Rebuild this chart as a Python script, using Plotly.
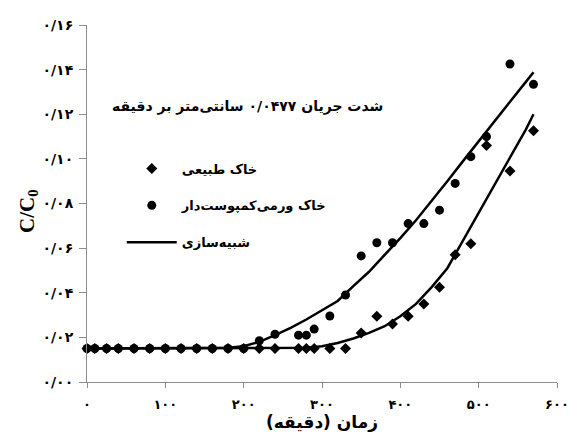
import plotly.graph_objects as go

# Measured breakthrough data (time in minutes, relative concentration C/C0)
time_natural = [0, 10, 25, 40, 60, 80, 100, 120, 140, 160, 180, 200, 220, 240,
                270, 280, 290, 310, 330, 350, 370, 390, 410, 430, 450, 470, 490,
                510, 540, 570]
conc_natural = [0.015, 0.015, 0.015, 0.015, 0.015, 0.015, 0.015, 0.015, 0.015,
                0.015, 0.015, 0.015, 0.015, 0.015, 0.015, 0.015, 0.015, 0.015,
                0.015, 0.022, 0.0295, 0.026, 0.0295, 0.035, 0.0425, 0.057,
                0.062, 0.106, 0.0946, 0.1126]

time_vermi = [0, 10, 25, 40, 60, 80, 100, 120, 140, 160, 180, 200, 220, 240,
              270, 280, 290, 310, 330, 350, 370, 390, 410, 430, 450, 470, 490,
              510, 540, 570]
conc_vermi = [0.015, 0.015, 0.015, 0.015, 0.015, 0.015, 0.015, 0.015, 0.015,
              0.015, 0.015, 0.015, 0.0185, 0.0214, 0.021, 0.021, 0.0237,
              0.0296, 0.039, 0.0565, 0.0624, 0.0624, 0.071, 0.071, 0.077,
              0.089, 0.101, 0.110, 0.1425, 0.1334]

# Simulated curves
sim_time = [0, 100, 150, 180, 200, 220, 240, 260, 280, 300, 320, 340, 360, 380,
            400, 420, 440, 460, 480, 500, 520, 540, 560, 570]
sim_natural = [0.015, 0.015, 0.015, 0.015, 0.015, 0.015, 0.015, 0.015, 0.0153,
               0.016, 0.0175, 0.0195, 0.022, 0.025, 0.0295, 0.035, 0.0425,
               0.051, 0.0635, 0.0755, 0.088, 0.1005, 0.113, 0.120]
sim_vermi = [0.015, 0.015, 0.015, 0.0153, 0.016, 0.018, 0.021, 0.0243, 0.028,
             0.032, 0.0363, 0.043, 0.0494, 0.057, 0.0645, 0.0725, 0.081, 0.090,
             0.099, 0.108, 0.117, 0.1256, 0.1344, 0.1388]

y_tick_vals = [0, 0.02, 0.04, 0.06, 0.08, 0.10, 0.12, 0.14, 0.16]
y_tick_text = ["۰/۰۰", "۰/۰۲", "۰/۰۴", "۰/۰۶", "۰/۰۸", "۰/۱۰", "۰/۱۲", "۰/۱۴", "۰/۱۶"]
x_tick_vals = [0, 100, 200, 300, 400, 500, 600]
x_tick_text = ["۰", "۱۰۰", "۲۰۰", "۳۰۰", "۴۰۰", "۵۰۰", "۶۰۰"]

name_natural = "خاک طبیعی"
name_vermi = "خاک ورمی‌کمپوست‌دار"
name_sim = "شبیه‌سازی"
chart_title = "شدت جریان ۰/۰۴۷۷ سانتی‌متر بر دقیقه"
x_title = "زمان (دقیقه)"

FA_FONT = "DejaVu Sans"

fig = go.Figure()

fig.add_trace(go.Scatter(
    x=sim_time, y=sim_natural, mode="lines", name=name_sim,
    line=dict(color="black", width=2.5), legendgroup="sim", legendrank=3,
    showlegend=True, cliponaxis=False,
))
fig.add_trace(go.Scatter(
    x=sim_time, y=sim_vermi, mode="lines", name=name_sim,
    line=dict(color="black", width=2.5), legendgroup="sim",
    showlegend=False, cliponaxis=False,
))
fig.add_trace(go.Scatter(
    x=time_natural, y=conc_natural, mode="markers", name=name_natural,
    marker=dict(symbol="diamond", size=8.5, color="black"),
    legendgroup="nat", legendrank=1, cliponaxis=False,
))
fig.add_trace(go.Scatter(
    x=time_vermi, y=conc_vermi, mode="markers", name=name_vermi,
    marker=dict(symbol="circle", size=9, color="black"),
    legendgroup="ver", legendrank=2, cliponaxis=False,
))

axis_color = "#8c8c8c"

fig.update_xaxes(
    range=[0, 600], tickvals=x_tick_vals, ticktext=x_tick_text,
    showgrid=False, zeroline=False, showline=True, linecolor=axis_color,
    linewidth=1, ticks="outside", ticklen=5, tickcolor=axis_color,
    automargin=False, ticklabeloverflow="allow", ticklabelstandoff=5,
    tickfont=dict(family=FA_FONT, size=13, color="black", weight="bold"),
)
fig.update_yaxes(
    range=[0, 0.16], tickvals=y_tick_vals, ticktext=y_tick_text,
    showgrid=False, zeroline=False, showline=True, linecolor=axis_color,
    linewidth=1, ticks="outside", ticklen=7, tickcolor=axis_color,
    automargin=False, ticklabeloverflow="allow", ticklabelstandoff=3,
    tickfont=dict(family=FA_FONT, size=14, color="black", weight="bold"),
)

fig.add_annotation(
    text=chart_title, xref="paper", yref="paper", x=0.341, y=0.773,
    showarrow=False, xanchor="center", yanchor="middle",
    font=dict(family=FA_FONT, size=14, color="black", weight="bold"),
)
fig.add_annotation(
    text=x_title, xref="paper", yref="paper", x=0.5, y=-0.112,
    showarrow=False, xanchor="center", yanchor="middle",
    font=dict(family=FA_FONT, size=17, color="black", weight="bold"),
)
fig.add_annotation(
    text="C/C<sub>0</sub>", xref="paper", yref="paper", x=-0.127, y=0.48,
    showarrow=False, xanchor="center", yanchor="middle", textangle=-90,
    font=dict(family="Liberation Serif", size=21, color="black", weight="bold"),
)

fig.update_layout(
    width=570, height=435,
    margin=dict(l=87, r=13, t=25, b=53),
    paper_bgcolor="white", plot_bgcolor="white",
    showlegend=True,
    legend=dict(
        x=0.074, y=0.64, xanchor="left", yanchor="top",
        bgcolor="rgba(0,0,0,0)", borderwidth=0,
        itemwidth=50, traceorder="grouped", tracegroupgap=17,
        font=dict(family=FA_FONT, size=13, color="black", weight="bold"),
    ),
)

fig.write_html("out.html")
